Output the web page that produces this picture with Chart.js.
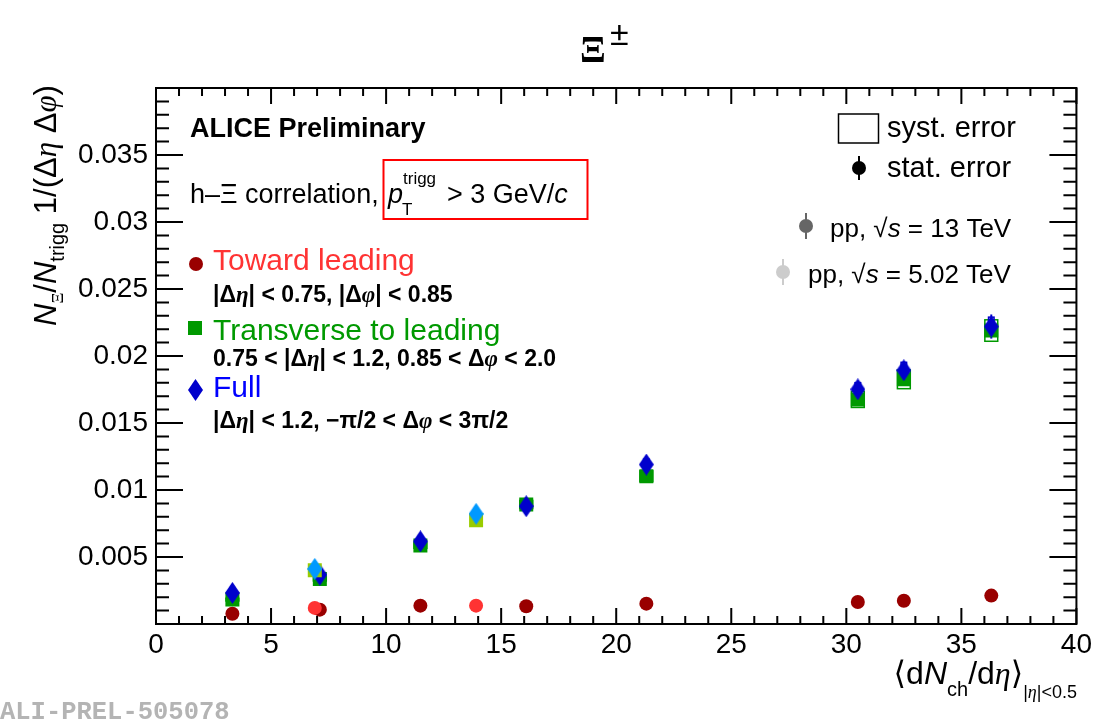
<!DOCTYPE html>
<html>
<head>
<meta charset="utf-8">
<script src="https://cdn.jsdelivr.net/npm/chart.js@4"></script>
<style>
html,body{margin:0;padding:0;background:#fff;}
#c{display:block;}
</style>
</head>
<body>
<canvas id="c" width="1096" height="720"></canvas>
<script>
// values

// pp 13 TeV
const mult13 = [3.32, 7.12, 11.49, 16.09, 21.31, 30.5, 32.5, 36.3];
const toward13 = [0.00077, 0.00107, 0.00137, 0.00132, 0.00152, 0.00164, 0.00174, 0.00212];
const trans13 = [0.00182, 0.00336, 0.00585, 0.00892, 0.01103, 0.01676, 0.01826, 0.0219];
const full13 = [0.00232, 0.00368, 0.00617, 0.00879, 0.0119, 0.01751, 0.01893, 0.0222];
const transSyst13 = [0.0001, 0.00015, 0.0002, 0.0003, 0.0004, 0.0006, 0.0007, 0.0008];
const fullSyst13 = [0.0001, 0.00015, 0.0002, 0.0003, 0.0004, 0.0005, 0.0006, 0.0007];
const fullStat13 = [0.0001, 0.0001, 0.00015, 0.0002, 0.0002, 0.0004, 0.0004, 0.0009];

// pp 5.02 TeV
const mult502 = [6.9, 13.91];
const toward502 = [0.0012, 0.00137];
const trans502 = [0.00401, 0.00774];
const full502 = [0.00411, 0.00822];

const xTickStep = 5;
const yTickStep = 0.005;

const SANS = '"Liberation Sans", "DejaVu Sans", Arial, sans-serif';
const SERIF = '"Liberation Serif", "DejaVu Serif", serif';

function pts(xs, ys){
return xs.map((x,i)=>({x:x, y:ys[i]}));
}

function diamond(color){
let c = document.createElement("canvas");
c.width = 15; c.height = 22;
let g = c.getContext("2d");
g.fillStyle = color;
g.beginPath();
g.moveTo(7.5,0); g.lineTo(15,11); g.lineTo(7.5,22); g.lineTo(0,11);
g.closePath();
g.fill();
return c;
}

// draw a run of text pieces: [text, font, dy, color]
function rich(ctx, x, y, parts, align){
let total = 0;
parts.forEach(p=>{ ctx.font = p[1]; total += ctx.measureText(p[0]).width; });
if(align === "right") x -= total;
ctx.textAlign = "left";
ctx.textBaseline = "alphabetic";
parts.forEach(p=>{
ctx.font = p[1];
ctx.fillStyle = p[3] || "#000";
ctx.fillText(p[0], x, y + (p[2] || 0));
x += ctx.measureText(p[0]).width;
});
}

function marker(ctx, x, y, color, bar){
ctx.fillStyle = color;
ctx.strokeStyle = color;
if(bar){
ctx.lineWidth = 2;
ctx.beginPath(); ctx.moveTo(x, y - bar); ctx.lineTo(x, y + bar); ctx.stroke();
}
ctx.beginPath(); ctx.arc(x, y, 7, 0, Math.PI*2); ctx.fill();
}

/* error boxes + stat bars */
const errorPlugin = {
id: "errors",
beforeDatasetsDraw(chart){
let ctx = chart.ctx, xs = chart.scales.x, ys = chart.scales.y;
ctx.save();
ctx.lineWidth = 1.5;
function boxes(xv, yv, ev, hw, color){
ctx.strokeStyle = color;
xv.forEach((x,i)=>{
let l = xs.getPixelForValue(x - hw), r = xs.getPixelForValue(x + hw);
let t = ys.getPixelForValue(yv[i] + ev[i]), b = ys.getPixelForValue(yv[i] - ev[i]);
ctx.strokeRect(l, t, r - l, b - t);
});
}
boxes(mult13, trans13, transSyst13, 0.28, "#009900");
boxes(mult13, full13, fullSyst13, 0.12, "#0000cc");
ctx.strokeStyle = "#0000cc";
ctx.lineWidth = 2;
mult13.forEach((x,i)=>{
let px = xs.getPixelForValue(x);
ctx.beginPath();
ctx.moveTo(px, ys.getPixelForValue(full13[i] + fullStat13[i]));
ctx.lineTo(px, ys.getPixelForValue(full13[i] - fullStat13[i]));
ctx.stroke();
});
ctx.restore();
}
};

/* frame, inward ticks, all the text */
const framePlugin = {
id: "frame",
afterDraw(chart){
let ctx = chart.ctx, xs = chart.scales.x, ys = chart.scales.y;
let a = chart.chartArea;
ctx.save();
ctx.strokeStyle = "#000";
ctx.lineWidth = 2;
ctx.strokeRect(a.left, a.top, a.right - a.left, a.bottom - a.top);

ctx.beginPath();
for(let v = 0; v <= 40; v += 1){
let px = xs.getPixelForValue(v);
let len = (v % xTickStep === 0) ? 16 : 8;
ctx.moveTo(px, a.bottom); ctx.lineTo(px, a.bottom - len);
ctx.moveTo(px, a.top); ctx.lineTo(px, a.top + len);
}
for(let k = 0; k <= 40; k++){
let v = k * 0.001;
let py = ys.getPixelForValue(v);
let len = (k % 5 === 0) ? 27 : 13;
ctx.moveTo(a.left, py); ctx.lineTo(a.left + len, py);
ctx.moveTo(a.right, py); ctx.lineTo(a.right - len, py);
}
ctx.stroke();

// title
rich(ctx, 580, 62, [["Ξ", "bold 38px " + SERIF]]);
rich(ctx, 610, 45, [["±", "34px " + SANS]]);

// y title
ctx.save();
ctx.translate(56, 326);
ctx.rotate(-Math.PI/2);
rich(ctx, 0, 0, [
["N", "italic 31px " + SANS],
["Ξ", "17px " + SERIF, 7],
["/", "31px " + SANS],
["N", "italic 31px " + SANS],
["trigg", "20px " + SANS, 8],
[" 1/(Δ", "31px " + SANS],
["η", "italic 31px " + SERIF],
[" Δ", "31px " + SANS],
["φ", "italic 31px " + SERIF],
[")", "31px " + SANS]
]);
ctx.restore();

// x title
rich(ctx, 1077, 684, [
["⟨d", "32px " + SANS],
["N", "italic 32px " + SANS],
["ch", "20px " + SANS, 12],
["/d", "32px " + SANS],
["η", "italic 32px " + SERIF],
["⟩", "32px " + SANS],
["|", "18px " + SANS, 14],
["η", "italic 18px " + SERIF, 14],
["|<0.5", "18px " + SANS, 14]
], "right");

// ALICE labels
rich(ctx, 190, 137, [["ALICE Preliminary", "bold 27px " + SANS]]);
rich(ctx, 190, 203, [["h–Ξ correlation,", "27px " + SANS]]);
ctx.strokeStyle = "#ff0000";
ctx.lineWidth = 2;
ctx.strokeRect(383.5, 160, 204, 59);
rich(ctx, 388, 203, [["p", "italic 27px " + SANS]]);
rich(ctx, 402, 215, [["T", "17px " + SANS]]);
rich(ctx, 403, 184, [["trigg", "17px " + SANS]]);
rich(ctx, 447, 203, [["> 3 GeV/", "27px " + SANS], ["c", "italic 27px " + SANS]]);

// left legend
marker(ctx, 196, 264, "#990000");
rich(ctx, 213, 270, [["Toward leading", "30px " + SANS, 0, "#ff3333"]]);
let B = "bold 23px " + SANS, BG = "bold italic 23px " + SERIF;
rich(ctx, 213, 302, [["|Δ", B], ["η", BG], ["| < 0.75, |Δ", B], ["φ", BG], ["| < 0.85", B]]);
ctx.fillStyle = "#009900";
ctx.fillRect(188, 321, 14, 14);
rich(ctx, 213, 340, [["Transverse to leading", "30px " + SANS, 0, "#009900"]]);
rich(ctx, 213, 366, [["0.75 < |Δ", B], ["η", BG], ["| < 1.2, 0.85 < Δ", B], ["φ", BG], [" < 2.0", B]]);
ctx.drawImage(diamond("#0000cc"), 188, 379, 15, 22);
rich(ctx, 213, 397, [["Full", "30px " + SANS, 0, "#0000ff"]]);
rich(ctx, 213, 428, [["|Δ", B], ["η", BG], ["| < 1.2, −π/2 < Δ", B], ["φ", BG], [" < 3π/2", B]]);

// right legend
ctx.strokeStyle = "#000";
ctx.lineWidth = 1.5;
ctx.strokeRect(838.5, 114, 40, 29);
rich(ctx, 887, 137, [["syst. error", "29px " + SANS]]);
marker(ctx, 859, 168, "#000", 12);
rich(ctx, 887, 177, [["stat. error", "29px " + SANS]]);
marker(ctx, 806, 226, "#666666", 13);
rich(ctx, 830, 237, [["pp, ", "26px " + SANS], ["√", "26px " + SANS], ["s", "italic 26px " + SANS], [" = 13 TeV", "26px " + SANS]]);
marker(ctx, 783, 272, "#cccccc", 13);
rich(ctx, 808, 283, [["pp, ", "26px " + SANS], ["√", "26px " + SANS], ["s", "italic 26px " + SANS], [" = 5.02 TeV", "26px " + SANS]]);

// preliminary id
rich(ctx, 0, 719, [["ALI-PREL-505078", "bold 25.5px \"Liberation Mono\", monospace", 0, "#b4b4b4"]]);

ctx.restore();
}
};

new Chart(document.getElementById("c"),{
type:"scatter",
data:{
datasets:[
{label:"full 5.02", data:pts(mult502, full502), pointStyle:diamond("#0099ff"), backgroundColor:"#0099ff", order:0},
{label:"trans 5.02", data:pts(mult502, trans502), pointStyle:"rect", pointRadius:9.9, backgroundColor:"#99cc00", borderWidth:0, order:1},
{label:"toward 5.02", data:pts(mult502, toward502), pointStyle:"circle", pointRadius:7, backgroundColor:"#ff3333", borderWidth:0, order:2},
{label:"full 13", data:pts(mult13, full13), pointStyle:diamond("#0000cc"), backgroundColor:"#0000cc", order:3},
{label:"trans 13", data:pts(mult13, trans13), pointStyle:"rect", pointRadius:9.9, backgroundColor:"#009900", borderWidth:0, order:4},
{label:"toward 13", data:pts(mult13, toward13), pointStyle:"circle", pointRadius:7, backgroundColor:"#990000", borderWidth:0, order:5}
]
},
options:{
responsive:false,
animation:false,
layout:{padding:{top:88, right:19, left:0, bottom:0}},
plugins:{legend:{display:false}, tooltip:{enabled:false}},
scales:{
x:{
type:"linear", min:0, max:40,
grid:{display:false, drawTicks:false},
border:{display:false},
ticks:{stepSize:xTickStep, color:"#000", padding:4, font:{family:SANS, size:28}},
afterFit(s){ s.height = 96; }
},
y:{
type:"linear", min:0, max:0.04,
grid:{display:false, drawTicks:false},
border:{display:false},
ticks:{
stepSize:yTickStep, color:"#000", padding:8, font:{family:SANS, size:28},
callback:v=>(v < 1e-6 || v > 0.0399) ? "" : String(parseFloat(v.toFixed(4)))
},
afterFit(s){ s.width = 156; }
}
}
},
plugins:[errorPlugin, framePlugin]
});
</script>
</body>
</html>
